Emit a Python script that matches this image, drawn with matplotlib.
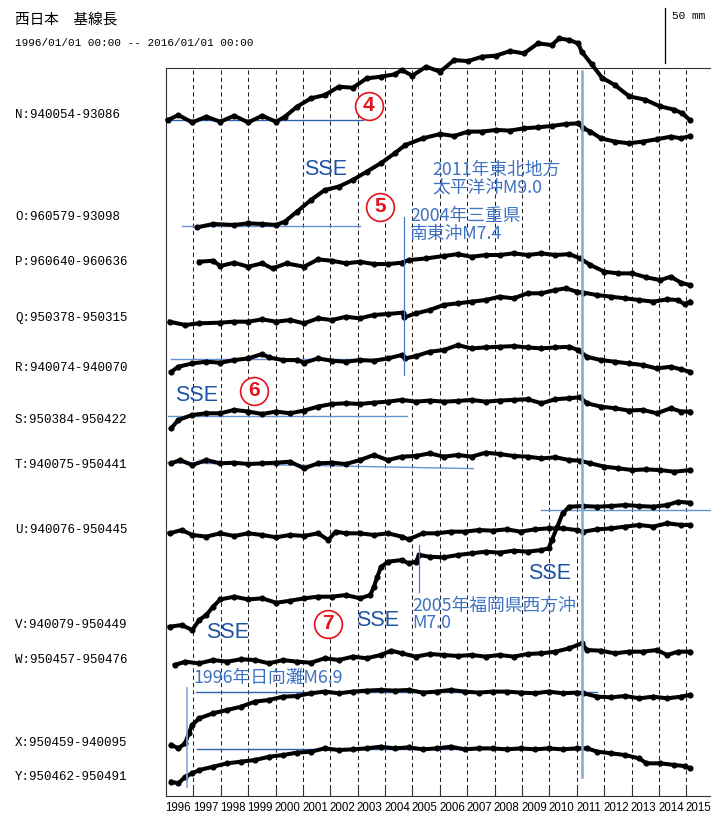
import matplotlib
matplotlib.use("Agg")
import matplotlib.pyplot as plt
from matplotlib import font_manager

# ---------------------------------------------------------------- data
# Baseline-length changes (mm) relative to each baseline's first value.
station_labels = ["N:940054-93086", "O:960579-93098", "P:960640-960636",
                  "Q:950378-950315", "R:940074-940070", "S:950384-950422",
                  "T:940075-950441", "U:940076-950445", "V:940079-950449",
                  "W:950457-950476", "X:950459-940095", "Y:950462-950491"]

# vertical offset of each trace (mm on the stacked plot)
trace_offsets = [614.5, 517.0, 485.7, 431.2, 385.7, 334.3,
                 302.4, 238.8, 153.9, 119.1, 46.4, 13.0]

t_N = [1996.06, 1996.45, 1996.96, 1997.47, 1997.98, 1998.49, 1999.00, 1999.51,
       2000.02, 2000.34, 2000.78, 2001.29, 2001.80, 2002.31, 2002.82, 2003.33,
       2003.84, 2004.35, 2004.61, 2004.99, 2005.50, 2006.01, 2006.52, 2007.03,
       2007.54, 2008.05, 2008.56, 2009.07, 2009.58, 2010.09, 2010.35, 2010.73,
       2011.05, 2011.18, 2011.55, 2011.92, 2012.39, 2012.92, 2013.50, 2014.03,
       2014.55, 2014.85, 2015.13]
d_N = [0, 4.5, -2.1, 3.0, -1.5, 3.9, -2.1, 3.9, -1.5, 3.0, 12.1, 19.7, 22.7,
       30.3, 29.4, 37.9, 39.4, 41.5, 45.5, 40.3, 48.5, 43.9, 54.5, 53.6, 57.6,
       58.5, 62.7, 60.6, 69.7, 68.2, 74.2, 72.7, 69.7, 62.1, 50.5, 38.5, 31.8,
       21.5, 18.5, 12.5, 9.5, 6.1, 0]

t_O = [1997.15, 1997.72, 1998.49, 1999.00, 1999.51, 2000.02, 2000.34, 2000.78,
       2001.29, 2001.80, 2002.31, 2002.82, 2003.33, 2003.84, 2004.35, 2004.74,
       2005.38, 2006.01, 2006.52, 2007.03, 2007.54, 2008.05, 2008.56, 2009.07,
       2009.58, 2010.09, 2010.60, 2011.05, 2011.24, 2011.50, 2011.88, 2012.39,
       2012.90, 2013.41, 2013.92, 2014.43, 2014.81, 2015.13]
d_O = [0, 3.0, 2.1, 3.6, 3.0, 2.1, 5.2, 14.2, 24.8, 33.9, 37.0, 43.0, 50.6,
       58.2, 67.3, 74.8, 80.9, 84.8, 83.0, 87.0, 87.0, 88.5, 87.9, 90.0, 90.9,
       92.1, 93.9, 94.5, 90.0, 87.0, 80.9, 77.9, 76.4, 77.9, 80.0, 82.4, 80.9,
       83.0]

t_P = [1997.21, 1997.72, 1997.98, 1998.49, 1999.00, 1999.51, 1999.89, 2000.40,
       2001.04, 2001.55, 2002.06, 2002.57, 2003.08, 2003.59, 2004.10, 2004.61,
       2004.86, 2005.50, 2006.14, 2006.65, 2007.16, 2007.67, 2008.18, 2008.69,
       2009.20, 2009.71, 2010.22, 2010.73, 2011.12, 2011.50, 2012.01, 2012.52,
       2013.03, 2013.54, 2014.05, 2014.43, 2014.81, 2015.13]
d_P = [0, 0.9, -3.9, -0.9, -4.5, -1.5, -6.1, -1.5, -4.5, 2.1, 0.9, -1.5, 0,
       -2.1, -2.1, -0.9, 1.5, 3.0, 5.2, 6.9, 4.5, 6.1, 6.1, 7.6, 6.1, 7.6, 6.1,
       6.9, 3.0, -3.0, -9.1, -10.6, -10.6, -14.2, -16.7, -13.6, -19.1, -21.2]

t_Q = [1996.13, 1996.70, 1997.21, 1997.98, 1998.49, 1999.00, 1999.51, 2000.02,
       2000.53, 2001.04, 2001.55, 2002.06, 2002.57, 2003.08, 2003.59, 2004.10,
       2004.66, 2004.70, 2005.12, 2005.63, 2006.14, 2006.65, 2007.16, 2007.67,
       2008.18, 2008.69, 2009.20, 2009.71, 2010.22, 2010.60, 2010.99, 2011.24,
       2011.75, 2012.26, 2012.77, 2013.28, 2013.79, 2014.30, 2014.69, 2014.94,
       2015.13]
d_Q = [0, -3.0, -1.5, -0.9, 0, 0, 2.1, 0, 1.5, -1.5, 3.0, 1.5, 4.5, 3.0, 6.1,
       7.0, 8.2, 4.0, 7.5, 10.6, 15.2, 16.7, 18.2, 19.7, 22.7, 21.2, 25.8,
       25.8, 28.8, 30.3, 27.3, 26.4, 24.2, 22.7, 21.2, 19.7, 18.2, 20.3, 19.7,
       15.8, 18.2]

t_R = [1996.19, 1996.45, 1996.96, 1997.47, 1997.98, 1998.49, 1999.00, 1999.51,
       1999.76, 2000.27, 2000.78, 2001.04, 2001.55, 2002.06, 2002.57, 2003.08,
       2003.59, 2004.10, 2004.61, 2004.74, 2005.12, 2005.63, 2006.14, 2006.65,
       2007.16, 2007.67, 2008.18, 2008.69, 2009.20, 2009.71, 2010.22, 2010.73,
       2011.05, 2011.37, 2011.88, 2012.39, 2012.90, 2013.41, 2013.92, 2014.43,
       2014.81, 2015.13]
d_R = [0, 4.5, 7.6, 9.1, 8.2, 10.6, 12.1, 16.1, 13.0, 10.6, 10.6, 8.2, 12.1,
       10.0, 9.1, 10.6, 10.0, 12.1, 15.2, 12.1, 14.2, 18.2, 19.7, 24.2, 21.2,
       22.1, 22.7, 23.3, 22.1, 21.2, 22.1, 22.7, 19.7, 13.6, 10.6, 9.1, 7.6,
       6.1, 3.0, 4.5, 2.1, 0]

t_S = [1996.19, 1996.45, 1996.96, 1997.47, 1997.98, 1998.49, 1999.00, 1999.51,
       2000.02, 2000.53, 2001.04, 2001.55, 2002.06, 2002.57, 2003.08, 2003.59,
       2004.10, 2004.61, 2005.12, 2005.63, 2006.14, 2006.65, 2007.16, 2007.67,
       2008.18, 2008.69, 2009.20, 2009.71, 2010.22, 2010.73, 2011.12, 2011.37,
       2011.88, 2012.39, 2012.90, 2013.41, 2013.92, 2014.43, 2014.81, 2015.13]
d_S = [0, 7.6, 12.1, 13.6, 13.6, 16.7, 15.2, 13.0, 15.2, 13.6, 16.1, 19.7,
       22.1, 22.7, 22.1, 23.3, 24.2, 25.8, 24.2, 25.2, 24.2, 24.8, 25.8, 24.2,
       25.2, 25.8, 26.4, 22.7, 26.4, 27.3, 28.2, 22.7, 19.7, 18.2, 16.1, 16.7,
       13.6, 18.2, 15.2, 15.2]

t_T = [1996.19, 1996.51, 1996.96, 1997.47, 1997.98, 1998.49, 1999.00, 1999.51,
       2000.02, 2000.53, 2001.04, 2001.55, 2002.06, 2002.57, 2003.08, 2003.59,
       2004.10, 2004.61, 2005.12, 2005.63, 2006.14, 2006.65, 2007.16, 2007.67,
       2008.18, 2008.69, 2009.20, 2009.71, 2010.22, 2010.73, 2011.12, 2011.50,
       2012.01, 2012.52, 2013.03, 2013.54, 2014.05, 2014.56, 2015.13]
d_T = [0, 3.0, -1.5, 3.0, 0, 0.6, -0.6, 0, 0.6, 1.5, -4.5, 0, 0.6, -0.6, 3.0,
       7.6, 3.0, 6.1, 6.7, 9.1, 6.1, 7.6, 6.1, 9.7, 8.5, 6.7, 6.1, 4.5, 5.5,
       3.0, 2.4, 0, -3.0, -4.5, -6.1, -5.5, -6.1, -7.6, -6.1]

t_U = [1996.13, 1996.57, 1996.96, 1997.47, 1997.98, 1998.49, 1999.00, 1999.51,
       2000.02, 2000.53, 2001.04, 2001.55, 2001.93, 2002.19, 2002.57, 2003.08,
       2003.59, 2004.10, 2004.61, 2004.86, 2005.38, 2005.89, 2006.40, 2006.91,
       2007.42, 2007.93, 2008.44, 2008.95, 2009.46, 2009.97, 2010.48, 2010.99,
       2011.24, 2011.75, 2012.26, 2012.77, 2013.28, 2013.79, 2014.30, 2014.81,
       2015.13]
d_U = [0, 3.0, -1.5, -3.0, 0, -2.4, 0, -1.5, -3.6, -1.5, -2.4, 0, -6.1, 1.5,
       0, 0, -1.5, 0, -3.0, -5.5, 0, 0, 1.5, 1.5, 3.0, 2.4, 3.6, 1.5, 3.6, 4.5,
       4.5, 3.0, 1.5, 3.6, 4.5, 6.1, 7.6, 6.1, 9.1, 7.6, 7.6]

t_V = [1996.13, 1996.57, 1996.96, 1997.21, 1997.47, 1997.72, 1997.98, 1998.49,
       1999.00, 1999.51, 2000.02, 2000.53, 2001.04, 2001.55, 2002.06, 2002.57,
       2003.08, 2003.46, 2003.59, 2003.72, 2003.84, 2004.10, 2004.61, 2004.86,
       2005.12, 2005.25, 2005.63, 2006.14, 2006.65, 2007.16, 2007.67, 2008.18,
       2008.69, 2009.20, 2009.71, 2009.97, 2010.09, 2010.29, 2010.48, 2010.73,
       2011.24, 2011.75, 2012.26, 2012.77, 2013.28, 2013.79, 2014.30, 2014.69,
       2015.13]
d_V = [0, 1.5, -3.0, 6.1, 10.6, 18.2, 24.8, 27.3, 24.8, 25.8, 21.8, 23.6,
       25.8, 27.3, 27.3, 28.8, 25.8, 28.8, 36.4, 45.5, 53.9, 59.1, 60.6, 57.6,
       59.1, 65.2, 63.6, 63.0, 65.2, 66.7, 68.2, 67.3, 69.1, 68.2, 69.7, 71.2,
       78.8, 90.9, 103.0, 109.1, 109.7, 109.1, 109.7, 110.6, 109.7, 109.1,
       110.6, 113.6, 112.7]

t_W = [1996.32, 1996.70, 1997.21, 1997.72, 1998.23, 1998.74, 1999.25, 1999.76,
       2000.27, 2000.78, 2001.29, 2001.80, 2002.31, 2002.82, 2003.33, 2003.84,
       2004.23, 2004.61, 2005.12, 2005.63, 2006.14, 2006.65, 2007.16, 2007.67,
       2008.18, 2008.69, 2009.20, 2009.71, 2010.22, 2010.73, 2011.18, 2011.37,
       2011.88, 2012.39, 2012.90, 2013.41, 2013.92, 2014.30, 2014.69, 2015.13]
d_W = [0, 3.0, 1.5, 4.5, 3.0, 5.2, 4.5, 1.5, 4.5, 3.0, 2.1, 6.1, 4.5, 7.6,
       6.1, 9.1, 13.0, 10.6, 7.6, 10.0, 9.1, 8.2, 9.1, 7.6, 9.1, 7.6, 10.0,
       10.6, 12.1, 15.2, 19.7, 13.6, 13.0, 10.6, 12.1, 12.1, 13.6, 9.1, 12.1,
       12.1]

t_X = [1996.19, 1996.45, 1996.70, 1996.83, 1996.96, 1997.21, 1997.72, 1998.23,
       1998.74, 1999.25, 1999.76, 2000.27, 2000.78, 2001.29, 2001.80, 2002.31,
       2002.82, 2003.33, 2003.84, 2004.35, 2004.86, 2005.38, 2005.89, 2006.40,
       2006.91, 2007.42, 2007.93, 2008.44, 2008.95, 2009.46, 2009.97, 2010.48,
       2010.99, 2011.24, 2011.75, 2012.26, 2012.77, 2013.28, 2013.79, 2014.30,
       2014.81, 2015.13]
d_X = [0, -3.0, 1.5, 10.6, 18.2, 24.2, 28.8, 31.8, 34.8, 39.4, 40.9, 43.9,
       44.5, 47.0, 48.5, 47.0, 48.5, 49.4, 50.0, 49.4, 50.0, 47.6, 48.5, 50.0,
       48.5, 47.6, 48.5, 48.5, 47.6, 47.0, 48.5, 47.0, 47.6, 47.0, 43.9, 43.3,
       44.5, 42.4, 43.9, 42.4, 43.9, 45.5]

t_Y = [1996.19, 1996.45, 1996.70, 1996.96, 1997.21, 1997.72, 1998.23, 1998.74,
       1999.25, 1999.76, 2000.27, 2000.78, 2001.29, 2001.80, 2002.31, 2002.82,
       2003.33, 2003.84, 2004.35, 2004.86, 2005.38, 2005.89, 2006.40, 2006.91,
       2007.42, 2007.93, 2008.44, 2008.95, 2009.46, 2009.97, 2010.48, 2010.99,
       2011.37, 2011.75, 2012.26, 2012.77, 2013.28, 2013.54, 2014.05, 2014.56,
       2014.94, 2015.13]
d_Y = [0, -1.5, 4.5, 7.6, 10.6, 13.6, 16.7, 18.2, 19.7, 22.7, 24.2, 26.4,
       27.3, 30.3, 28.8, 29.4, 30.3, 31.8, 30.3, 31.2, 29.4, 30.3, 31.8, 29.4,
       30.3, 30.3, 29.4, 30.3, 29.4, 30.3, 29.4, 30.3, 30.3, 27.3, 25.8, 24.2,
       21.2, 16.7, 16.7, 15.2, 14.2, 12.1]

series_times = [t_N, t_O, t_P, t_Q, t_R, t_S, t_T, t_U, t_V, t_W, t_X, t_Y]
series_values = [d_N, d_O, d_P, d_Q, d_R, d_S, d_T, d_U, d_V, d_W, d_X, d_Y]

years = list(range(1996, 2016))

# earthquakes: (time, text)
quake_times = [2011.19, 2004.68, 2005.22, 1996.78]
quake_texts = ["2011年東北地方\n太平洋沖M9.0", "2004年三重県\n南東沖M7.4",
               "2005年福岡県西方沖\nM7.0", "1996年日向灘M6.9"]

# reference trend lines: (start, end, level start, level end) in mm
trend_lines = [(1996.06, 2003.18, 614.5, 614.5),
               (1996.57, 2003.08, 518.5, 518.5),
               (1996.19, 2003.84, 397.0, 397.0),
               (1996.06, 2004.80, 345.5, 345.5),
               (1996.06, 2007.22, 303.0, 297.6),
               (2009.71, 2016.00, 260.0, 260.0),
               (1997.08, 2011.75, 94.3, 94.3),
               (1997.15, 2011.60, 42.5, 42.5)]

circled_numbers = ["4", "5", "6", "7"]

# ---------------------------------------------------------------- layout
W, H = 711, 816
MM_PER_PX = 1 / 1.1
AX_LEFT, AX_TOP, AX_BOTTOM = 166, 68, 796
X0, X1 = 1996.0, 2015.9
Y1 = (AX_BOTTOM - AX_TOP) * MM_PER_PX

names = {f.name for f in font_manager.fontManager.ttflist}
MONO = "Liberation Mono" if "Liberation Mono" in names else "DejaVu Sans Mono"
JP = ["Noto Sans CJK JP", "DejaVu Sans"]
SANS = "Liberation Sans" if "Liberation Sans" in names else "DejaVu Sans"
if "Liberation Sans Narrow" in names:
    year_font, year_size = "Liberation Sans Narrow", 10.0
else:
    year_font, year_size = SANS, 8.3

BLUE_TEXT = "#3f72c2"
BLUE_SSE = "#1f52a5"
BLUE_DARK = "#2f62b0"
BLUE_LIGHT = "#6592d0"
BLUE_QUAKE = "#84a7d9"
RED = "#e3121b"

fig = plt.figure(figsize=(W / 100, H / 100), dpi=100)
ax = fig.add_axes([AX_LEFT / W, (H - AX_BOTTOM) / H,
                   1 - AX_LEFT / W, (AX_BOTTOM - AX_TOP) / H])
ax.set_xlim(X0, X1)
ax.set_ylim(0, Y1)

for side in ("left", "top", "bottom"):
    ax.spines[side].set_linewidth(0.8)
    ax.spines[side].set_color("#333333")
ax.spines["right"].set_visible(False)

# year grid
ax.set_xticks(years[1:])
ax.set_xticklabels([])
ax.set_xticks([y + 0.44 for y in years], minor=True)
ax.set_xticklabels([str(y) for y in years], minor=True,
                   fontfamily=year_font, fontsize=year_size)
ax.tick_params(axis="x", which="major", direction="in", length=6.5,
               width=0.8, color="#333333")
ax.tick_params(axis="x", which="minor", length=0, pad=4)
ax.set_yticks([])
for y in years[1:]:
    ax.axvline(y, color="#222222", lw=0.75, ls=(0, (4, 3)), zorder=1)

# reference lines
for i, (a, b, ya, yb) in enumerate(trend_lines):
    col = BLUE_DARK if i in (0, 6, 7) else BLUE_LIGHT
    ax.plot([a, b], [ya, yb], color=col, lw=1.0, zorder=2, clip_on=False)

# earthquake markers
ax.plot([quake_times[0]] * 2, [659.0, 17.3], color=BLUE_QUAKE, lw=1.8, zorder=4)
ax.plot([quake_times[1]] * 2, [526.4, 382.7], color="#4a7cc4", lw=0.9, zorder=4)
ax.plot([quake_times[2]] * 2, [228.2, 185.5], color="#4a7cc4", lw=0.9, zorder=4)
ax.plot([quake_times[3]] * 2, [98.2, 8.2], color=BLUE_QUAKE, lw=1.2, zorder=4)

# stacked time series
for t, d, off in zip(series_times, series_values, trace_offsets):
    ax.plot(t, [off + v for v in d], color="black", lw=2.9, marker="o",
            ms=3.4, solid_joinstyle="round", zorder=3, clip_on=False)

# earthquake captions
cap_pos = [(2005.71, 561.0), (2004.91, 519.1), (2004.98, 165.0), (1996.99, 107.3)]
for (x, y), txt in zip(cap_pos, quake_texts):
    ax.text(x, y, txt, color=BLUE_TEXT, fontsize=12.8, family=JP,
            ha="left", va="center", linespacing=1.0, zorder=5)

# slow slip events
sse_pos = [(2001.84, 569.1), (1997.13, 364.5), (1998.26, 148.2),
           (2003.74, 160.0), (2010.02, 202.7)]
for x, y in sse_pos:
    ax.text(x, y, "SSE", color=BLUE_SSE, fontsize=15.5, family=SANS,
            ha="center", va="center", zorder=5)

# circled region numbers
num_pos = [(2003.41, 627.3), (2003.81, 535.5), (1999.21, 368.2), (2001.91, 156.4)]
for (x, y), s in zip(num_pos, circled_numbers):
    ax.plot([x], [y], marker="o", ms=20, mfc="white", mec=RED, mew=1.2,
            zorder=5)
    ax.text(x, y, s, color=RED, fontsize=15, family=SANS, weight="bold",
            ha="center", va="center", zorder=6)

# 50 mm scale bar
sx = 2014.22
top = (AX_BOTTOM - 8) * MM_PER_PX
ax.plot([sx, sx], [top, top - 50], color="black", lw=0.9, clip_on=False)
fig.text(672 / W, 1 - 16 / H, "50 mm", family=MONO, fontsize=8,
         ha="left", va="center")

# station labels
label_px = [115, 217, 262, 318, 368, 420, 465, 530, 625, 660, 743, 777]
for lab, ypx in zip(station_labels, label_px):
    fig.text(15 / W, 1 - ypx / H, lab, family=MONO, fontsize=9,
             ha="left", va="center")

fig.text(15 / W, 1 - 20 / H, "西日本　基線長", family=JP, fontsize=10.5,
         ha="left", va="center")
fig.text(15 / W, 1 - 43 / H, "1996/01/01 00:00 -- 2016/01/01 00:00",
         family=MONO, fontsize=7.9, ha="left", va="center")

fig.savefig("out.png", dpi=100)
